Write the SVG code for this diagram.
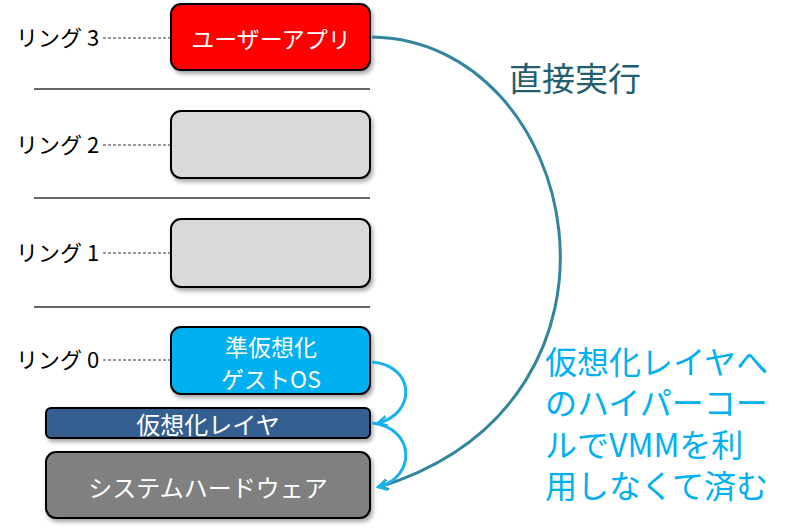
<svg xmlns="http://www.w3.org/2000/svg" width="800" height="529" viewBox="0 0 800 529">
<defs>
<style>
.box{stroke:#000;stroke-width:2;filter:url(#sh)}
.lbl{font-family:"Noto Sans CJK JP",sans-serif;font-size:22px;fill:#000}
.wt{font-family:"Noto Sans CJK JP",sans-serif;font-size:23px;fill:#fff;text-anchor:middle;dominant-baseline:central}
.dash{stroke:#333;stroke-width:1;stroke-dasharray:3 2}
.sep{stroke:#333;stroke-width:1.5}
.teal{fill:none;stroke:#31859C;stroke-width:3}
.blue{fill:none;stroke:#1AB2EC;stroke-width:3}
.note{font-family:"Noto Sans CJK JP",sans-serif;font-size:32px;fill:#00B0F0}
</style>
<filter id="sh" x="-10%" y="-10%" width="130%" height="140%">
<feDropShadow dx="2" dy="3" stdDeviation="2" flood-color="#000" flood-opacity="0.35"/>
</filter>
<marker id="ahT" viewBox="0 0 12 12" refX="10" refY="6" markerWidth="12" markerHeight="12" markerUnits="userSpaceOnUse" orient="auto">
<path d="M1,1 L10,6 L1,11" fill="none" stroke="#31859C" stroke-width="2.5"/>
</marker>
<marker id="ahB" viewBox="0 0 12 12" refX="10" refY="6" markerWidth="12" markerHeight="12" markerUnits="userSpaceOnUse" orient="auto">
<path d="M1,1 L10,6 L1,11" fill="none" stroke="#1AB2EC" stroke-width="2.5"/>
</marker>
</defs>
<rect width="800" height="529" fill="#fff"/>

<g id="separators">
<line class="sep" x1="34" y1="89" x2="370" y2="89"/>
<line class="sep" x1="34" y1="198" x2="370" y2="198"/>
<line class="sep" x1="34" y1="307" x2="370" y2="307"/>
</g>

<g id="ring3">
<text class="lbl" x="16" y="46">リング 3</text>
<line class="dash" x1="103" y1="38" x2="171" y2="38"/>
<rect class="box" x="171" y="4" width="199" height="66" rx="10" fill="#FF0000"/>
<text class="wt" x="271" y="38">ユーザーアプリ</text>
</g>

<g id="ring2">
<text class="lbl" x="16" y="153">リング 2</text>
<line class="dash" x1="103" y1="145" x2="171" y2="145"/>
<rect class="box" x="171" y="111" width="199" height="67" rx="10" fill="#D9D9D9"/>
</g>

<g id="ring1">
<text class="lbl" x="16" y="261">リング 1</text>
<line class="dash" x1="103" y1="253" x2="171" y2="253"/>
<rect class="box" x="171" y="219" width="199" height="68" rx="10" fill="#D9D9D9"/>
</g>

<g id="ring0">
<text class="lbl" x="16" y="368">リング 0</text>
<line class="dash" x1="103" y1="360" x2="171" y2="360"/>
<rect class="box" x="171" y="327" width="199" height="67" rx="10" fill="#00B0F0"/>
<text class="wt" x="271" y="346" style="font-size:23px">準仮想化</text>
<text class="wt" x="271" y="378" style="font-size:23px">ゲストOS</text>
</g>

<g id="vlayer">
<rect class="box" x="46" y="408" width="324" height="30" rx="5" fill="#355E91"/>
<text class="wt" x="208" y="423" style="font-size:24px">仮想化レイヤ</text>
</g>

<g id="hardware">
<rect class="box" x="46" y="452" width="324" height="66" rx="10" fill="#808080"/>
<text class="wt" x="208" y="486" style="font-size:24px">システムハードウェア</text>
</g>

<g id="connectors">
<path class="teal" d="M372,37 C580,40 660,400 379,487" marker-end="url(#ahT)"/>
<path class="blue" d="M372,362 C416,366 416,414 378,423" marker-end="url(#ahB)"/>
<path class="blue" d="M372,423 C416,428 416,478 378,487" marker-end="url(#ahB)"/>
</g>

<g id="labels">
<text x="509" y="91" style="font-family:'Noto Sans CJK JP',sans-serif;font-size:33px;fill:#215E6E">直接実行</text>
<text class="note" x="545" y="374">仮想化レイヤへ</text>
<text class="note" x="545" y="415">のハイパーコー</text>
<text class="note" x="545" y="457">ルでVMMを利</text>
<text class="note" x="545" y="498">用しなくて済む</text>
</g>
</svg>
